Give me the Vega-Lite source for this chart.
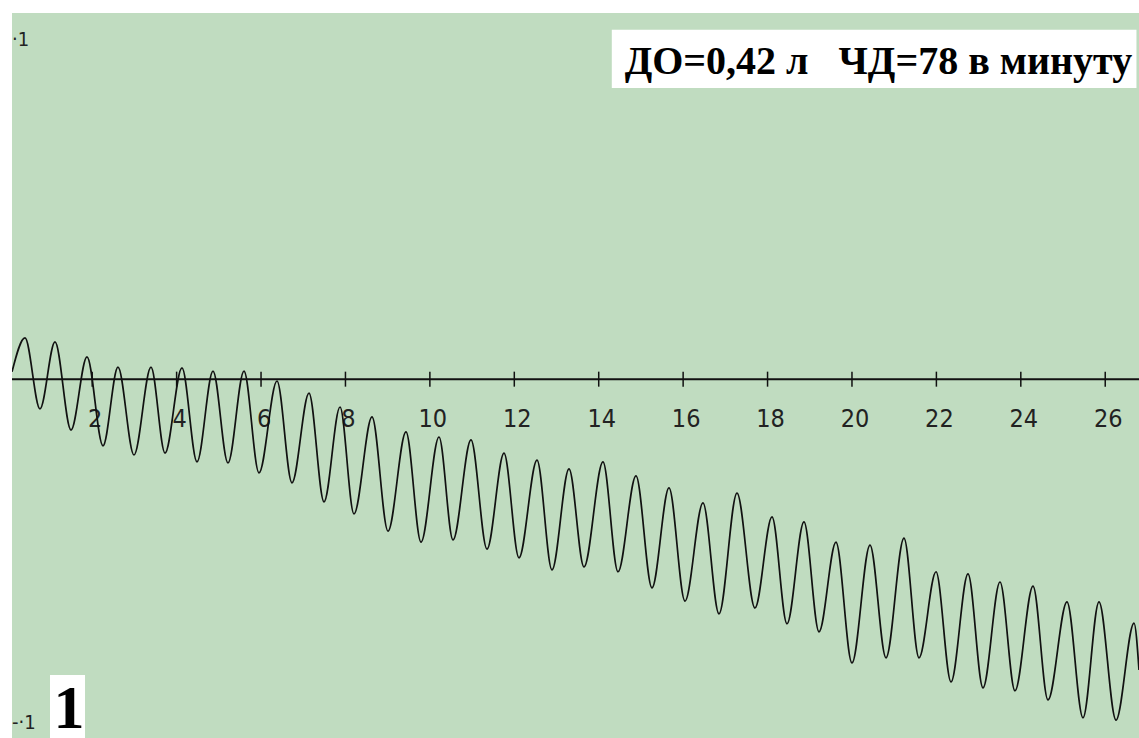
{
  "$schema": "https://vega.github.io/schema/vega-lite/v6.json",
  "width": 1127,
  "height": 725,
  "autosize": {"type": "none"},
  "padding": {"left": 12, "top": 13, "right": 0, "bottom": 0},
  "background": "white",
  "config": {"view": {"fill": "#c0dcc0", "stroke": null}},
  "layer": [
    {
      "data": {"values": [{"y": 0}]},
      "mark": {"type": "rule", "color": "#111", "strokeWidth": 2},
      "encoding": {
        "y": {"field": "y", "type": "quantitative", "scale": {"domain": [-0.98, 1.0], "nice": false, "zero": false}, "axis": null}
      }
    },
    {
      "data": {"name": "ticks", "values": [
        {"x": 2, "y": 0, "lab": "2"}, {"x": 4, "y": 0, "lab": "4"}, {"x": 6, "y": 0, "lab": "6"},
        {"x": 8, "y": 0, "lab": "8"}, {"x": 10, "y": 0, "lab": "10"}, {"x": 12, "y": 0, "lab": "12"},
        {"x": 14, "y": 0, "lab": "14"}, {"x": 16, "y": 0, "lab": "16"}, {"x": 18, "y": 0, "lab": "18"},
        {"x": 20, "y": 0, "lab": "20"}, {"x": 22, "y": 0, "lab": "22"}, {"x": 24, "y": 0, "lab": "24"},
        {"x": 26, "y": 0, "lab": "26"}
      ]},
      "layer": [
        {
          "mark": {"type": "tick", "orient": "vertical", "size": 15, "thickness": 1.5, "color": "#111", "opacity": 1},
          "encoding": {
            "x": {"field": "x", "type": "quantitative", "scale": {"domain": [0.1, 26.8], "nice": false, "zero": false}, "axis": null},
            "y": {"field": "y", "type": "quantitative", "scale": {"domain": [-0.98, 1.0], "nice": false, "zero": false}, "axis": null}
          }
        },
        {
          "mark": {"type": "text", "dy": 40, "dx": 3, "fontSize": 25, "font": "Liberation Sans Narrow, DejaVu Sans Condensed, Roboto Condensed, Liberation Sans", "color": "#222", "baseline": "middle", "align": "center"},
          "encoding": {
            "x": {"field": "x", "type": "quantitative", "scale": {"domain": [0.1, 26.8], "nice": false, "zero": false}, "axis": null},
            "y": {"field": "y", "type": "quantitative", "scale": {"domain": [-0.98, 1.0], "nice": false, "zero": false}, "axis": null},
            "text": {"field": "lab", "type": "nominal"}
          }
        }
      ]
    },
    {
      "data": {"values": [
        {"x": 0.100, "y": 0.020}, {"x": 0.408, "y": 0.113}, {"x": 0.763, "y": -0.081},
        {"x": 1.119, "y": 0.102}, {"x": 1.498, "y": -0.139}, {"x": 1.877, "y": 0.061},
        {"x": 2.256, "y": -0.182}, {"x": 2.611, "y": 0.033}, {"x": 2.990, "y": -0.207},
        {"x": 3.393, "y": 0.033}, {"x": 3.725, "y": -0.202}, {"x": 4.127, "y": 0.031},
        {"x": 4.483, "y": -0.226}, {"x": 4.862, "y": 0.022}, {"x": 5.217, "y": -0.229},
        {"x": 5.596, "y": 0.022}, {"x": 5.952, "y": -0.256}, {"x": 6.378, "y": -0.005},
        {"x": 6.733, "y": -0.283}, {"x": 7.136, "y": -0.038}, {"x": 7.492, "y": -0.335},
        {"x": 7.871, "y": -0.076}, {"x": 8.202, "y": -0.368}, {"x": 8.629, "y": -0.103},
        {"x": 9.008, "y": -0.415}, {"x": 9.434, "y": -0.144}, {"x": 9.790, "y": -0.445},
        {"x": 10.216, "y": -0.158}, {"x": 10.548, "y": -0.439}, {"x": 10.974, "y": -0.166},
        {"x": 11.353, "y": -0.464}, {"x": 11.756, "y": -0.202}, {"x": 12.111, "y": -0.488},
        {"x": 12.538, "y": -0.221}, {"x": 12.893, "y": -0.521}, {"x": 13.296, "y": -0.245},
        {"x": 13.651, "y": -0.513}, {"x": 14.101, "y": -0.226}, {"x": 14.457, "y": -0.526},
        {"x": 14.883, "y": -0.264}, {"x": 15.262, "y": -0.570}, {"x": 15.665, "y": -0.297},
        {"x": 16.044, "y": -0.606}, {"x": 16.470, "y": -0.338}, {"x": 16.850, "y": -0.641},
        {"x": 17.276, "y": -0.311}, {"x": 17.702, "y": -0.625}, {"x": 18.105, "y": -0.376},
        {"x": 18.461, "y": -0.668}, {"x": 18.863, "y": -0.390}, {"x": 19.219, "y": -0.690},
        {"x": 19.621, "y": -0.445}, {"x": 20.000, "y": -0.775}, {"x": 20.427, "y": -0.453},
        {"x": 20.806, "y": -0.761}, {"x": 21.232, "y": -0.434}, {"x": 21.588, "y": -0.761},
        {"x": 21.991, "y": -0.526}, {"x": 22.346, "y": -0.827}, {"x": 22.749, "y": -0.532},
        {"x": 23.104, "y": -0.843}, {"x": 23.507, "y": -0.554}, {"x": 23.862, "y": -0.851},
        {"x": 24.289, "y": -0.565}, {"x": 24.644, "y": -0.876}, {"x": 25.094, "y": -0.608},
        {"x": 25.473, "y": -0.925}, {"x": 25.852, "y": -0.608}, {"x": 26.255, "y": -0.931},
        {"x": 26.682, "y": -0.666}, {"x": 26.800, "y": -0.794}
      ]},
      "mark": {"type": "line", "color": "#111", "strokeWidth": 1.7, "interpolate": "monotone", "clip": true},
      "encoding": {
        "x": {"field": "x", "type": "quantitative", "scale": {"domain": [0.1, 26.8], "nice": false, "zero": false}, "axis": null},
        "y": {"field": "y", "type": "quantitative", "scale": {"domain": [-0.98, 1.0], "nice": false, "zero": false}, "axis": null}
      }
    },
    {
      "data": {"values": [
        {"x": 14.31, "x2": 26.74, "y": 0.954, "y2": 0.795},
        {"x": 1.0, "x2": 1.83, "y": -0.808, "y2": -0.98}
      ]},
      "mark": {"type": "rect", "color": "white", "opacity": 1},
      "encoding": {
        "x": {"field": "x", "type": "quantitative", "scale": {"domain": [0.1, 26.8], "nice": false, "zero": false}, "axis": null},
        "x2": {"field": "x2"},
        "y": {"field": "y", "type": "quantitative", "scale": {"domain": [-0.98, 1.0], "nice": false, "zero": false}, "axis": null},
        "y2": {"field": "y2"}
      }
    },
    {
      "data": {"values": [
        {"x": 26.64, "y": 0.833, "t": "ДО=0,42 л\u00a0\u00a0\u00a0ЧД=78 в минуту"}
      ]},
      "mark": {"type": "text", "align": "right", "baseline": "alphabetic", "font": "Liberation Serif", "fontWeight": "bold", "fontSize": 40, "color": "black"},
      "encoding": {
        "x": {"field": "x", "type": "quantitative", "scale": {"domain": [0.1, 26.8], "nice": false, "zero": false}, "axis": null},
        "y": {"field": "y", "type": "quantitative", "scale": {"domain": [-0.98, 1.0], "nice": false, "zero": false}, "axis": null},
        "text": {"field": "t", "type": "nominal"}
      }
    },
    {
      "data": {"values": [
        {"x": 1.45, "y": -0.952, "t": "1"}
      ]},
      "mark": {"type": "text", "align": "center", "baseline": "alphabetic", "font": "Liberation Serif", "fontWeight": "bold", "fontSize": 62, "color": "black"},
      "encoding": {
        "x": {"field": "x", "type": "quantitative", "scale": {"domain": [0.1, 26.8], "nice": false, "zero": false}, "axis": null},
        "y": {"field": "y", "type": "quantitative", "scale": {"domain": [-0.98, 1.0], "nice": false, "zero": false}, "axis": null},
        "text": {"field": "t", "type": "nominal"}
      }
    },
    {
      "data": {"values": [
        {"x": 0.1, "y": 0.926, "t": "·1"},
        {"x": 0.1, "y": -0.94, "t": "-·1"}
      ]},
      "mark": {"type": "text", "align": "left", "baseline": "middle", "font": "Liberation Sans Narrow, DejaVu Sans Condensed, Liberation Sans", "fontSize": 20, "color": "#222"},
      "encoding": {
        "x": {"field": "x", "type": "quantitative", "scale": {"domain": [0.1, 26.8], "nice": false, "zero": false}, "axis": null},
        "y": {"field": "y", "type": "quantitative", "scale": {"domain": [-0.98, 1.0], "nice": false, "zero": false}, "axis": null},
        "text": {"field": "t", "type": "nominal"}
      }
    }
  ]
}
